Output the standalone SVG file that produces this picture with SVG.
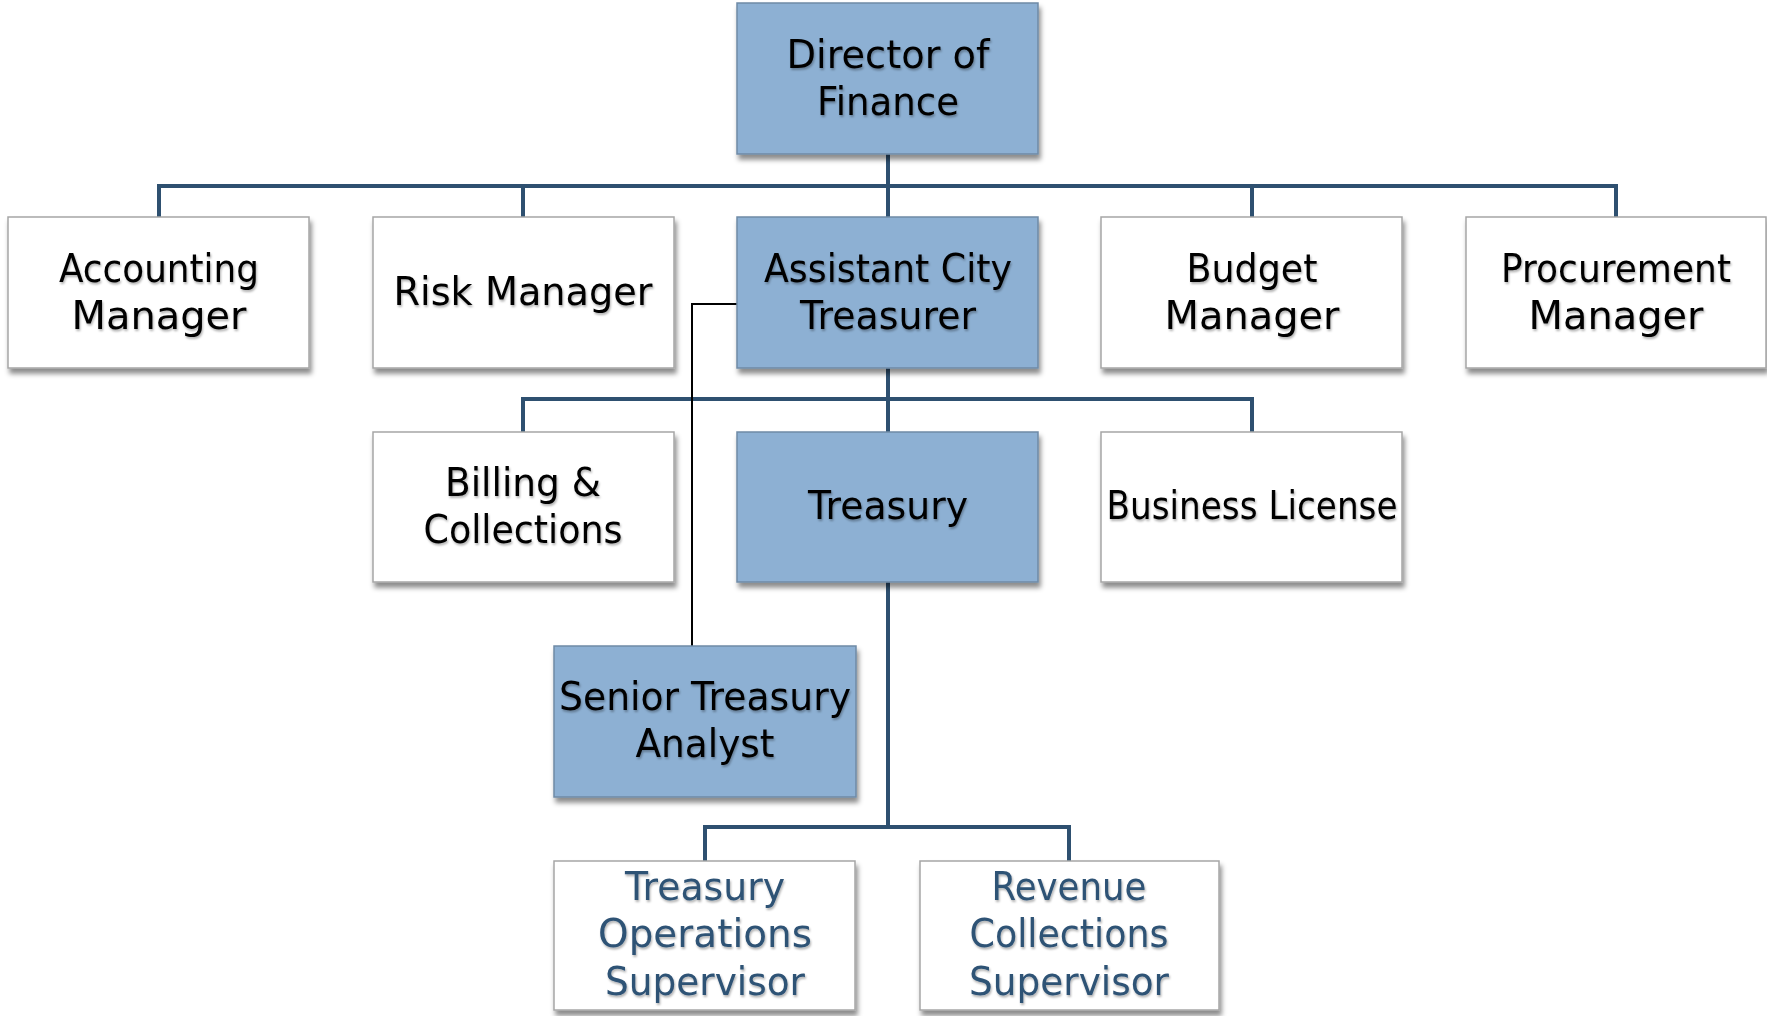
<svg xmlns="http://www.w3.org/2000/svg" width="1767" height="1016" viewBox="0 0 1767 1016">
<defs>
<filter id="sh" x="-5%" y="-5%" width="115%" height="125%">
<feDropShadow dx="2" dy="5" stdDeviation="2.5" flood-color="#000" flood-opacity="0.45"/>
</filter>
<filter id="tsh" x="-5%" y="-20%" width="110%" height="150%">
<feDropShadow dx="1" dy="2" stdDeviation="1" flood-color="#000" flood-opacity="0.3"/>
</filter>
<style>
.blue{fill:#8DB0D3;stroke:#6F8AA6;stroke-width:1.5}
.white{fill:#FFFFFF;stroke:#A6A6A6;stroke-width:1.5}
.t{font-family:"DejaVu Sans","Liberation Sans",sans-serif;font-size:39px;fill:#000;text-anchor:middle}
.tb{font-family:"DejaVu Sans","Liberation Sans",sans-serif;font-size:39px;fill:#2E5275;text-anchor:middle}
tspan{lengthAdjust:spacingAndGlyphs}
.conn{fill:none;stroke:#2E5070;stroke-width:4;stroke-linejoin:miter}
.thin{fill:none;stroke:#000;stroke-width:2}
</style>
</defs>
<rect width="1767" height="1016" fill="#FFFFFF"/>
<g id="connectors">
<path class="conn" d="M888 154 V217 M159 217 V186 H1616 V217 M523 186 V217 M1252 186 V217"/>
<path class="conn" d="M888 368 V432 M523 432 V399 H1252 V432"/>
<path class="conn" d="M888 581 V827 M705 861 V827 H1069 V861"/>
<path class="thin" d="M737 304 H692 V646"/>
</g>
<g id="director"><rect class="blue" x="737" y="3" width="301" height="151" filter="url(#sh)"/>
<text class="t" filter="url(#tsh)"><tspan x="888" y="68" textLength="203" lengthAdjust="spacingAndGlyphs">Director of</tspan><tspan x="888" y="115" textLength="142" lengthAdjust="spacingAndGlyphs">Finance</tspan></text></g>
<g id="accounting"><rect class="white" x="8" y="217" width="301" height="151" filter="url(#sh)"/>
<text class="t" filter="url(#tsh)"><tspan x="159" y="282" textLength="200" lengthAdjust="spacingAndGlyphs">Accounting</tspan><tspan x="159" y="329" textLength="175" lengthAdjust="spacingAndGlyphs">Manager</tspan></text></g>
<g id="risk"><rect class="white" x="373" y="217" width="301" height="151" filter="url(#sh)"/>
<text class="t" filter="url(#tsh)"><tspan x="523" y="305" textLength="259" lengthAdjust="spacingAndGlyphs">Risk Manager</tspan></text></g>
<g id="assistant"><rect class="blue" x="737" y="217" width="301" height="151" filter="url(#sh)"/>
<text class="t" filter="url(#tsh)"><tspan x="888" y="282" textLength="248" lengthAdjust="spacingAndGlyphs">Assistant City</tspan><tspan x="888" y="329" textLength="176" lengthAdjust="spacingAndGlyphs">Treasurer</tspan></text></g>
<g id="budget"><rect class="white" x="1101" y="217" width="301" height="151" filter="url(#sh)"/>
<text class="t" filter="url(#tsh)"><tspan x="1252" y="282" textLength="131" lengthAdjust="spacingAndGlyphs">Budget</tspan><tspan x="1252" y="329" textLength="175" lengthAdjust="spacingAndGlyphs">Manager</tspan></text></g>
<g id="procurement"><rect class="white" x="1466" y="217" width="300" height="151" filter="url(#sh)"/>
<text class="t" filter="url(#tsh)"><tspan x="1616" y="282" textLength="230" lengthAdjust="spacingAndGlyphs">Procurement</tspan><tspan x="1616" y="329" textLength="175" lengthAdjust="spacingAndGlyphs">Manager</tspan></text></g>
<g id="billing"><rect class="white" x="373" y="432" width="301" height="150" filter="url(#sh)"/>
<text class="t" filter="url(#tsh)"><tspan x="523" y="496" textLength="156" lengthAdjust="spacingAndGlyphs">Billing &amp;</tspan><tspan x="523" y="543" textLength="199" lengthAdjust="spacingAndGlyphs">Collections</tspan></text></g>
<g id="treasury"><rect class="blue" x="737" y="432" width="301" height="150" filter="url(#sh)"/>
<text class="t" filter="url(#tsh)"><tspan x="888" y="519" textLength="160" lengthAdjust="spacingAndGlyphs">Treasury</tspan></text></g>
<g id="business"><rect class="white" x="1101" y="432" width="301" height="150" filter="url(#sh)"/>
<text class="t" filter="url(#tsh)"><tspan x="1252" y="519" textLength="291" lengthAdjust="spacingAndGlyphs">Business License</tspan></text></g>
<g id="senior"><rect class="blue" x="554" y="646" width="302" height="151" filter="url(#sh)"/>
<text class="t" filter="url(#tsh)"><tspan x="705" y="710" textLength="292" lengthAdjust="spacingAndGlyphs">Senior Treasury</tspan><tspan x="705" y="757" textLength="139" lengthAdjust="spacingAndGlyphs">Analyst</tspan></text></g>
<g id="treasury-ops"><rect class="white" x="554" y="861" width="301" height="149" filter="url(#sh)"/>
<text class="tb" filter="url(#tsh)"><tspan x="705" y="900" textLength="160" lengthAdjust="spacingAndGlyphs">Treasury</tspan><tspan x="705" y="947" textLength="214" lengthAdjust="spacingAndGlyphs">Operations</tspan><tspan x="705" y="995" textLength="200" lengthAdjust="spacingAndGlyphs">Supervisor</tspan></text></g>
<g id="revenue"><rect class="white" x="920" y="861" width="299" height="149" filter="url(#sh)"/>
<text class="tb" filter="url(#tsh)"><tspan x="1069" y="900" textLength="155" lengthAdjust="spacingAndGlyphs">Revenue</tspan><tspan x="1069" y="947" textLength="199" lengthAdjust="spacingAndGlyphs">Collections</tspan><tspan x="1069" y="995" textLength="200" lengthAdjust="spacingAndGlyphs">Supervisor</tspan></text></g>
</svg>
